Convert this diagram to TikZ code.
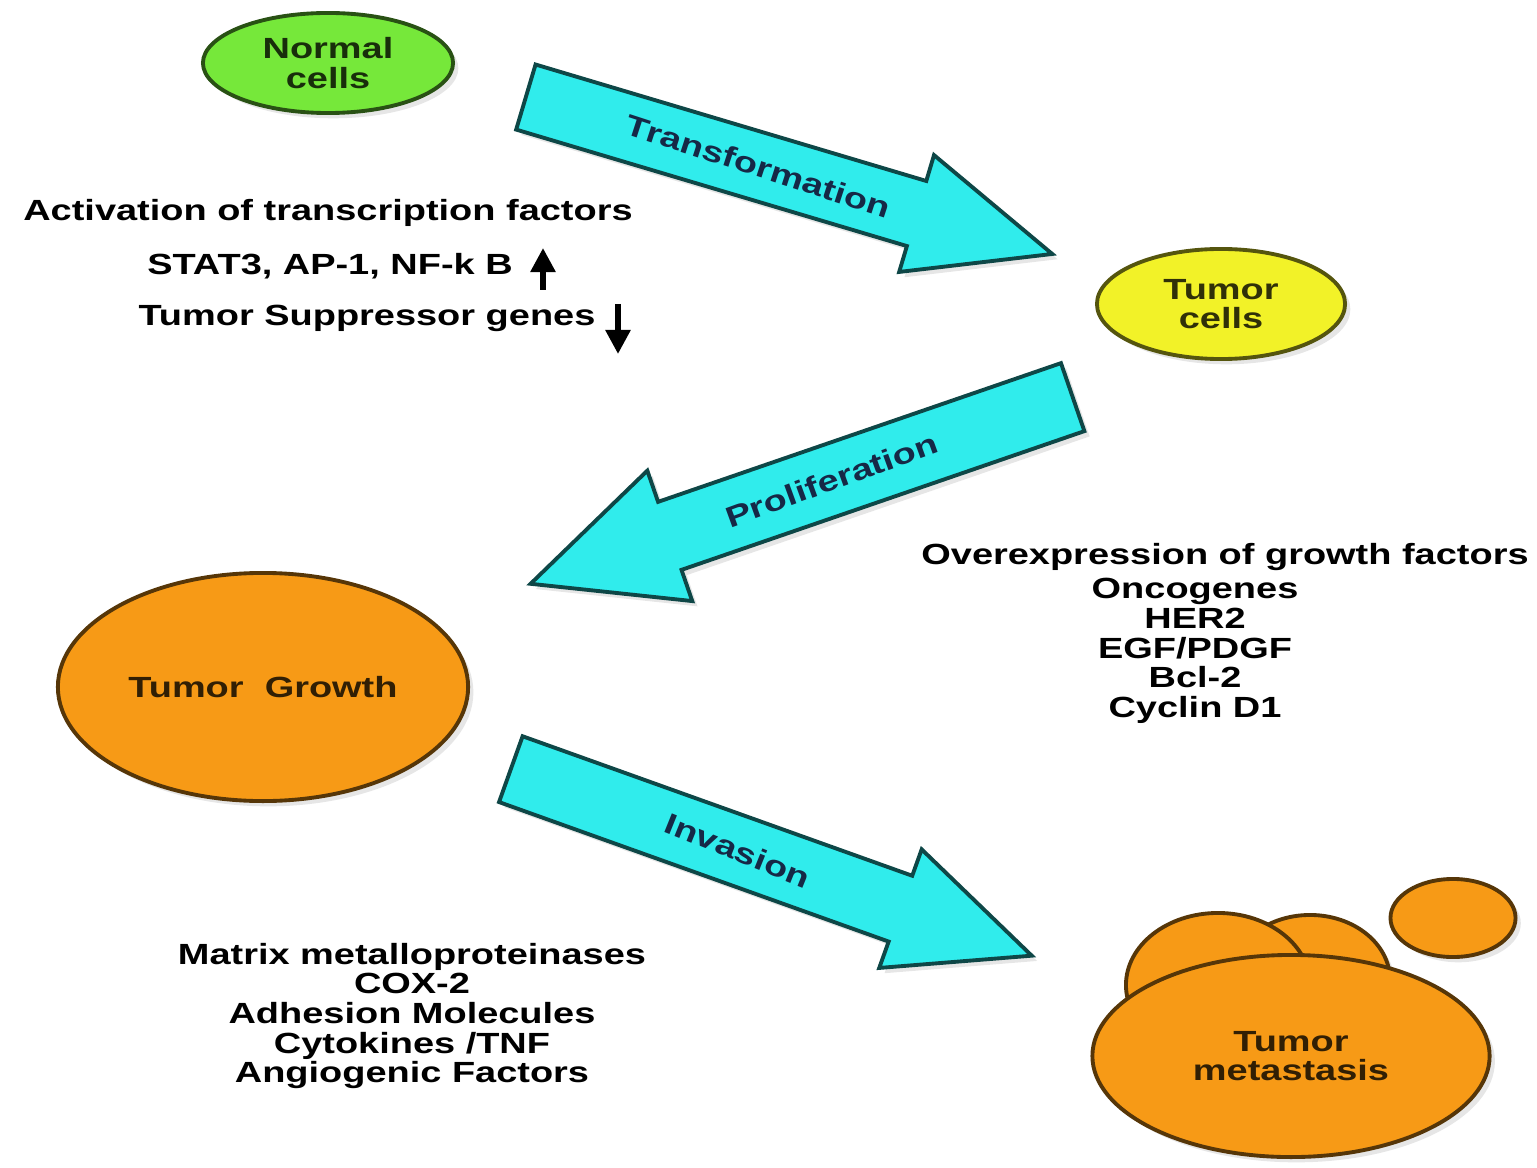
\documentclass[tikz,border=0pt]{standalone}
\usepackage{fontspec}
\newfontfamily\lab{Liberation Sans}[FakeStretch=1.3]
\newcommand\labfont{\lab\bfseries\fontsize{8.3pt}{8.45pt}\selectfont}
\usetikzlibrary{positioning, arrows.meta, shapes.geometric, shapes.arrows, shadows, calc}
\definecolor{cNC}{RGB}{118,232,58}
\definecolor{cTC}{RGB}{242,242,40}
\definecolor{cTG}{RGB}{247,154,22}
\definecolor{cAR}{RGB}{48,236,236}
\definecolor{cLB}{RGB}{22,40,70}
\tikzset{
  %% cell ellipse, fill colour as parameter
  C/.style={ellipse, fill=#1, draw=#1!35!black, line width=1.1pt,
            inner sep=0pt, align=center, font=\labfont, text=#1!20!black,
            drop shadow={shadow xshift=1.5pt, shadow yshift=-1.5pt, opacity=0.2}},
  %% block arrow (tail anchored)
  BA/.style={single arrow, anchor=tail, fill=cAR, draw=cAR!30!black,
             line width=1.1pt, inner xsep=0pt, minimum width=0pt,
             drop shadow={shadow xshift=1.5pt, shadow yshift=-1.5pt, opacity=0.2}},
  %% label on block arrow
  AL/.style={font=\labfont, text=cLB, inner sep=0pt},
  %% free text
  T/.style={font=\labfont, align=center, text=black, inner sep=0pt},
  %% small up / down arrow
  UD/.style={-{Triangle[length=0.24cm, width=0.24cm]}, line width=1.6pt, black},
}

\begin{document}
\begin{tikzpicture}[x=0.01cm, y=-0.01cm]
\useasboundingbox (0,0) rectangle (1537,1167);

%% ════════════════════════════════════════════════
%%  CELLS  (pixel coordinates, y downwards)
%% ════════════════════════════════════════════════
\node[C=cNC, minimum width=2.5cm,  minimum height=1.0cm]  (normal) at (328,63)   {Normal\\cells};
\node[C=cTC, minimum width=2.48cm, minimum height=1.1cm]  (tumor)  at (1221,304) {Tumor\\cells};
\node[C=cTG, minimum width=4.1cm,  minimum height=2.28cm] (growth) at (263,687)  {Tumor\ \ Growth};

%% ── metastasis cluster (back ones first) ──
\node[C=cTG, minimum width=1.6cm,  minimum height=1.3cm]  (mback1) at (1310,980)  {};
\node[C=cTG, minimum width=1.84cm, minimum height=1.44cm] (mback2) at (1218,985)  {};
\node[C=cTG, minimum width=3.97cm, minimum height=2.02cm] (meta)   at (1291,1056) {Tumor\\metastasis};
\node[C=cTG, minimum width=1.25cm, minimum height=0.78cm] (msmall) at (1453,918)  {};

%% ════════════════════════════════════════════════
%%  BLOCK ARROWS
%% ════════════════════════════════════════════════
\node[BA, minimum height=5.49cm, inner ysep=0.32cm, single arrow head extend=0.27cm,
      single arrow tip angle=46.6, rotate=-16.6] (trans) at (524,96.5) {};
\node[BA, minimum height=5.73cm, inner ysep=0.34cm, single arrow head extend=0.33cm,
      single arrow tip angle=50.2, rotate=199] (prolif) at (1074.5,396.5) {};
\node[BA, minimum height=5.53cm, inner ysep=0.33cm, single arrow head extend=0.28cm,
      single arrow tip angle=48.6, rotate=-19.7] (inv) at (509,768.5) {};

\node[AL, rotate=-18] (transL)  at ($(trans.tail)!0.44!(trans.tip)$)   {Transformation};
\node[AL, rotate=20]  (prolifL) at ($(prolif.tail)!0.443!(prolif.tip)$) {Proliferation};
\node[AL, rotate=-22] (invL)    at ($(inv.tail)!0.434!(inv.tip)$)     {Invasion};

%% ════════════════════════════════════════════════
%%  TEXT BLOCKS
%% ════════════════════════════════════════════════
\node[T] (act)  at (328,213) {Activation of transcription factors};
\node[T] (stat) at (330,266) {STAT3, AP-1, NF-k B};
\node[T] (sup)  at (367,318) {Tumor Suppressor genes};

%% up / down markers
\coordinate (up0) at (543,290);
\coordinate (up1) at (543,248);
\coordinate (dn0) at (618,304);
\coordinate (dn1) at (618,354);
\draw[UD] (up0) -- (up1);
\draw[UD] (dn0) -- (dn1);

\node[T] (over) at (1225,557) {Overexpression of growth factors};
\node[T] (onco) at (1195,651) {Oncogenes\\HER2\\EGF/PDGF\\Bcl-2\\Cyclin D1};

\node[T] (mmp)  at (412,1016) {Matrix metalloproteinases\\COX-2\\Adhesion Molecules\\Cytokines /TNF\\Angiogenic Factors};

\end{tikzpicture}
\end{document}
